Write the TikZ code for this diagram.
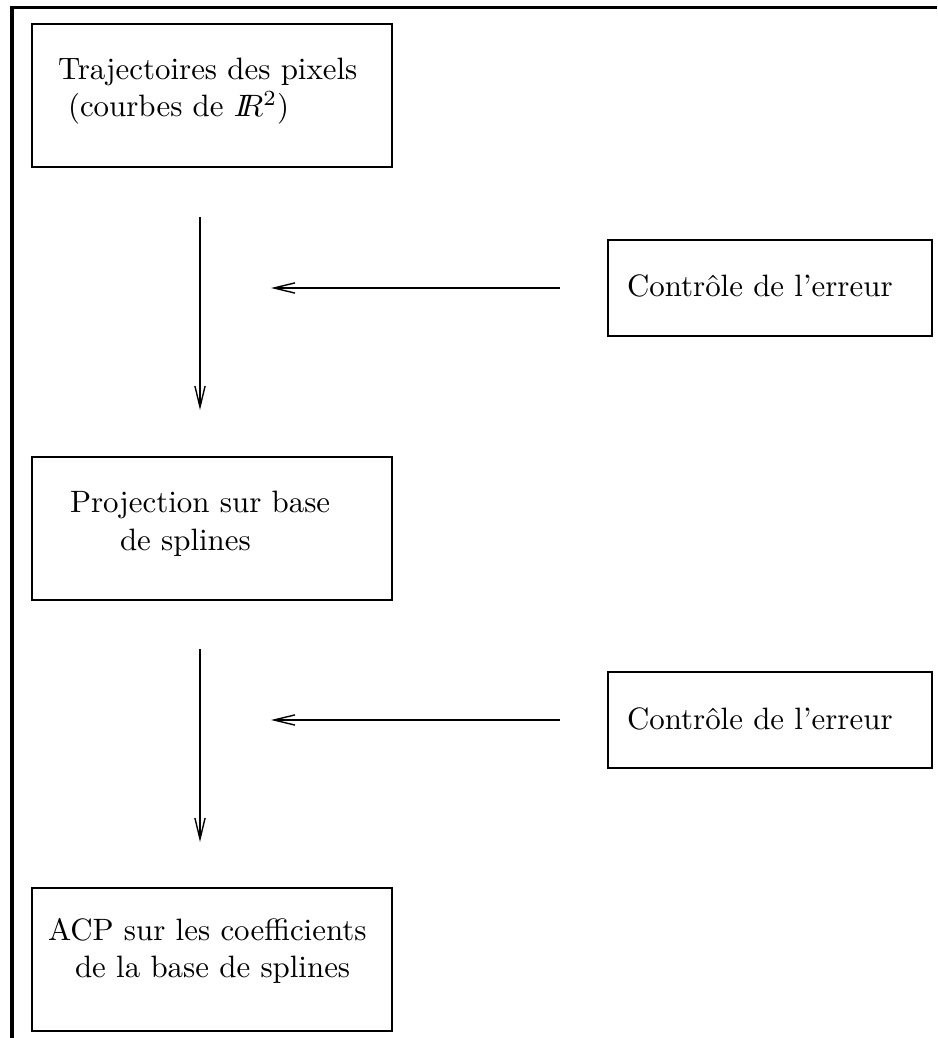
\documentclass[tikz,border=0pt]{standalone}
\usepackage{fontspec}
\usetikzlibrary{arrows.meta}
\tikzset{
  box/.style={draw, line width=0.4pt, inner sep=0pt, outer sep=0pt},
  bigbox/.style={box, minimum width=116.5pt, minimum height=46.3pt},
  ctlbox/.style={box, minimum width=104.8pt, minimum height=31.1pt},
  txt/.style={anchor=base west, inner sep=0pt, outer sep=0pt, font=\fontsize{10}{12}\selectfont},
  flow/.style={line width=0.45pt, -{Straight Barb[length=6.8pt, width=3.3pt, line width=0.45pt]}},
  frameline/.style={line width=1pt}
}
\begin{document}
\begin{tikzpicture}[x=0.3236pt, y=-0.3236pt]
\useasboundingbox (0,0) rectangle (937,1038);
% frame
\draw[frameline] (12,1038) -- (12,7.5) -- (937,7.5);
% boxes
\node[bigbox] (b1) at (212,95.5) {};
\node[bigbox] (b2) at (212,528.5) {};
\node[bigbox] (b3) at (212,959.5) {};
\node[ctlbox] (c1) at (770,288) {};
\node[ctlbox] (c2) at (770,720) {};
% texts
\node[txt] (t1a) at (58,80) {Trajectoires des pixels};
\node[txt] (t1b) at (68,117) {(courbes de $I\!\!R^2$)};
\node[txt] (t2a) at (70,513) {Projection sur base};
\node[txt] (t2b) at (120,550) {de splines};
\node[txt] (t3a) at (48,940) {ACP sur les coefficients};
\node[txt] (t3b) at (75,977) {de la base de splines};
\node[txt] (tc1) at (627,297) {Contrôle de l'erreur};
\node[txt] (tc2) at (627,729) {Contrôle de l'erreur};
% arrow end points
\coordinate (v1s) at (200,217);
\coordinate (v1e) at (200,410);
\coordinate (h1s) at (560,288);
\coordinate (h1e) at (271,288);
\coordinate (v2s) at (200,649);
\coordinate (v2e) at (200,842);
\coordinate (h2s) at (560,720);
\coordinate (h2e) at (271,720);
\draw[flow] (v1s) -- (v1e);
\draw[flow] (h1s) -- (h1e);
\draw[flow] (v2s) -- (v2e);
\draw[flow] (h2s) -- (h2e);
\end{tikzpicture}
\end{document}
